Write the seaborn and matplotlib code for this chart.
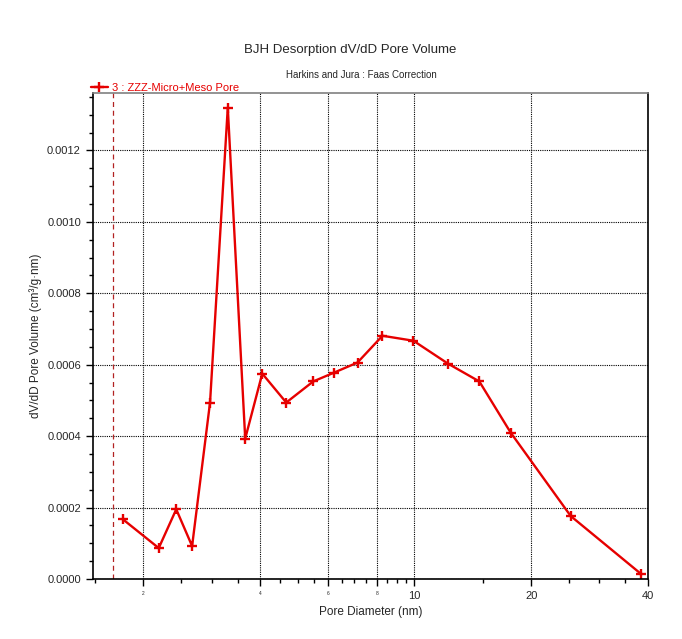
import numpy as np
import seaborn as sns
import matplotlib.pyplot as plt
from matplotlib.ticker import FixedLocator, NullFormatter, MultipleLocator, FormatStrFormatter

sns.set_style("ticks")
plt.rcParams['font.family'] = ['Liberation Sans', 'DejaVu Sans']

# pore diameter (nm) and dV/dD pore volume (cm3/g.nm)
diam = [1.77, 2.19, 2.43, 2.67, 2.97, 3.30, 3.66, 4.05, 4.67, 5.48, 6.21,
        7.13, 8.27, 9.94, 12.2, 14.7, 17.7, 25.3, 38.4]
dvdd = [0.000167, 0.0000865, 0.000195, 0.000092, 0.000494, 0.00132, 0.000393,
        0.000575, 0.000494, 0.000553, 0.000578, 0.000606, 0.000681, 0.000667,
        0.000603, 0.000553, 0.00041, 0.000176, 0.000014]
cutoff = 1.67
series_name = '3 : ZZZ-Micro+Meso Pore'
x_major = [2, 4, 6, 8, 10, 20, 40]
x_minor = [1.5, 2.5, 3, 3.5, 4.5, 5, 5.5, 6.5, 7, 7.5, 8.5, 9, 9.5,
           15, 25, 30, 35]

red = '#e60000'

fig = plt.figure(figsize=(6.82, 6.39), dpi=100)
ax = fig.add_axes([0.136, 0.094, 0.814, 0.760])

sns.lineplot(x=diam, y=dvdd, ax=ax, color=red, linewidth=1.7, marker='+',
             markersize=7, markeredgewidth=1.7, markeredgecolor=red,
             label=series_name)
ax.axvline(cutoff, color='#b22222', linestyle=(0, (4, 3)), linewidth=0.9)

ax.set_xscale('log')
ax.set_xlim(1.48, 40)
ax.set_ylim(0, 0.00136)

ax.xaxis.set_major_locator(FixedLocator(x_major))
ax.xaxis.set_minor_locator(FixedLocator(x_minor))
ax.xaxis.set_minor_formatter(NullFormatter())

ax.yaxis.set_major_locator(MultipleLocator(0.0002))
ax.yaxis.set_minor_locator(MultipleLocator(0.00005))
ax.yaxis.set_major_formatter(FormatStrFormatter('%.4f'))

ax.tick_params(axis='both', which='major', direction='out', length=5,
               width=1, labelsize=8, color='black')
ax.tick_params(axis='both', which='minor', direction='out', length=3,
               width=1, color='black')

ax.set_xticks(x_major)
ax.set_xticklabels([str(v) for v in x_major])
for v, lab in zip(x_major, ax.get_xticklabels()):
    lab.set_fontsize(3.5 if v < 10 else 8)

ax.grid(True, which='major', color='black', linestyle=(0, (1, 1)),
        linewidth=0.8)

for side in ['left', 'bottom', 'right']:
    ax.spines[side].set_color('black')
    ax.spines[side].set_linewidth(1.2)
ax.spines['top'].set_color('#808080')
ax.spines['top'].set_linewidth(1.2)

ax.set_xlabel('Pore Diameter (nm)', fontsize=8.5)
ax.set_ylabel('dV/dD Pore Volume (cm³/g·nm)', fontsize=8.5)

fig.text(0.513, 0.922, 'BJH Desorption dV/dD Pore Volume', ha='center',
         va='center', fontsize=9.5)
fig.text(0.53, 0.883, 'Harkins and Jura : Faas Correction', ha='center',
         va='center', fontsize=7)

leg = ax.legend(loc='center left', bbox_to_anchor=(-0.003, 1.011), frameon=False,
                fontsize=8, handlelength=1.5, handletextpad=0.4,
                borderaxespad=0, borderpad=0)
for t in leg.get_texts():
    t.set_color(red)

plt.savefig('out.png', dpi=100)
